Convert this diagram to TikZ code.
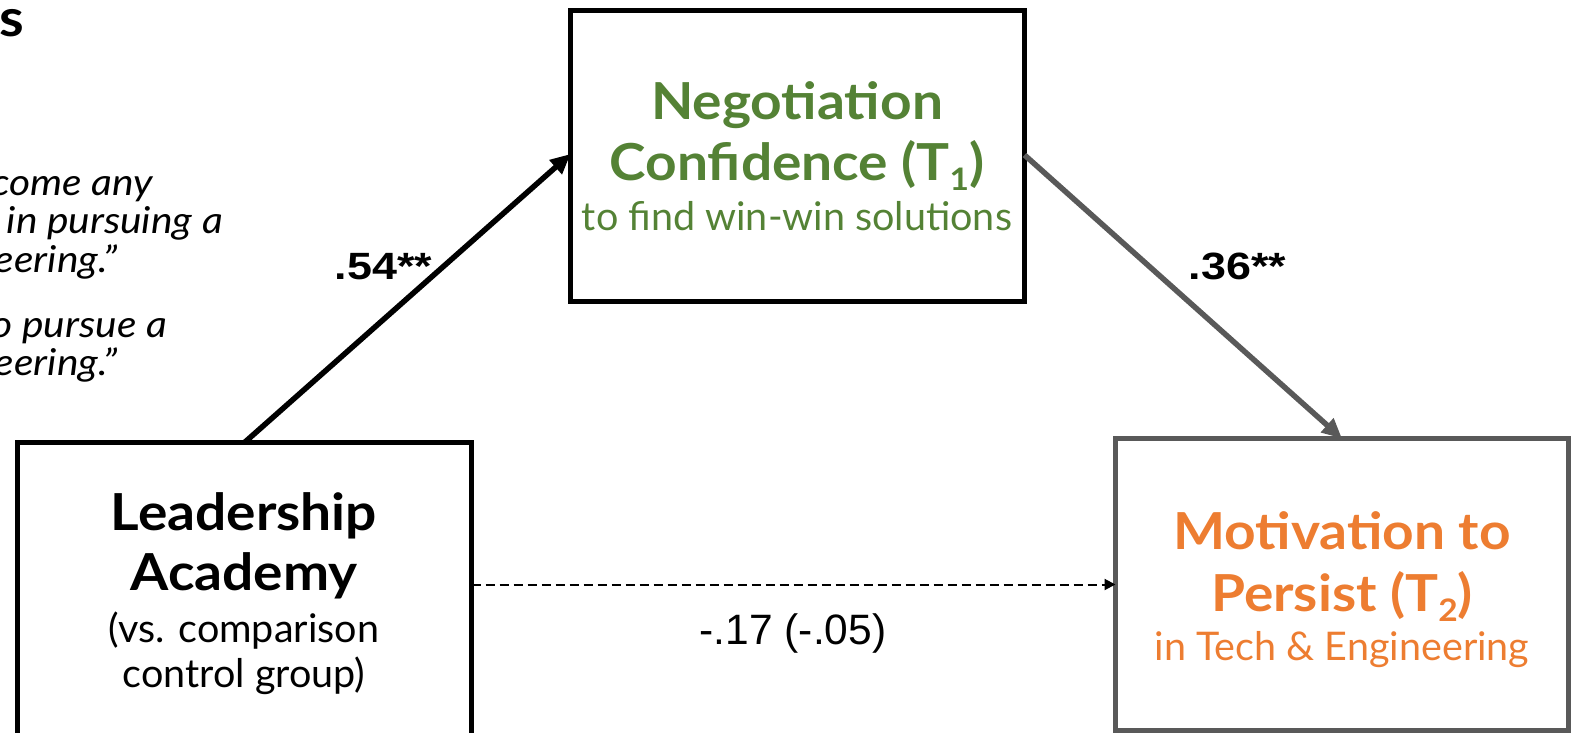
\documentclass[tikz,border=0pt]{standalone}
\usepackage{fontspec}
\setmainfont{Lato}[BoldFeatures={FakeStretch=1.08},ItalicFeatures={FakeStretch=1.1}]
\newfontfamily\labelfont{Liberation Sans}
\newfontfamily\coeffont{Liberation Sans}[BoldFeatures={FakeStretch=1.18}]
\usetikzlibrary{arrows.meta}
\definecolor{negogreen}{RGB}{84,130,53}
\definecolor{motorange}{RGB}{237,125,49}
\definecolor{pathgrey}{RGB}{89,89,89}
% lowered subscript used in the time labels
\newcommand\timesub[1]{\raisebox{-10pt}{\fontsize{31}{31}\selectfont #1}}
\begin{document}
\begin{tikzpicture}[x=1pt,y=-1pt,
  varbox/.style={draw,line width=5pt,inner sep=0pt,outer sep=0pt},
  headline/.style={anchor=base,inner sep=0pt,font=\fontsize{51}{60}\selectfont\bfseries},
  subline/.style={anchor=base,inner sep=0pt,font=\fontsize{39.5}{48}\selectfont},
  coef/.style={anchor=base,inner sep=0pt,font=\coeffont\fontsize{38}{44}\selectfont\bfseries},
  quoteline/.style={anchor=base east,inner sep=0pt,font=\fontsize{37}{42}\selectfont\itshape},
  patharrow/.style={line width=5.5pt,-{Triangle[length=20pt,width=18pt]}},
  ]
\useasboundingbox (0,0) rectangle (1576,733);
\clip (0,0) rectangle (1576,733);

% heading fragment and quoted items on the left
\node[anchor=base west,inner sep=0pt,font=\fontsize{52}{60}\selectfont\bfseries] (title) at (-1,37) {s};
\node[quoteline] (q1) at (153,195) {come any};
\node[quoteline] (q2) at (223,233) {in pursuing a};
\node[quoteline] (q3) at (118,272) {eering.”};
\node[quoteline] (q4) at (167,337) {o pursue a};
\node[quoteline] (q5) at (118,375) {eering.”};

% variable boxes
\node[varbox,minimum width=454pt,minimum height=291pt] (nego) at (797.5,156) {};
\node[varbox,minimum width=454pt,minimum height=318pt] (lead) at (244.5,601.5) {};
\node[varbox,draw=pathgrey,minimum width=453pt,minimum height=292pt] (moti) at (1342,584.5) {};

% box texts
\node[headline,text=negogreen] (negoA) at (797,120) {Negotiation};
\node[headline,text=negogreen] (negoB) at (797,180) {Confidence (T\timesub{1})};
\node[subline,text=negogreen] (negoC) at (797,230) {to find win-win solutions};

\node[headline] (leadA) at (244,530) {Leadership};
\node[headline] (leadB) at (244,590) {Academy};
\node[subline] (leadC) at (244,642) {(vs. comparison};
\node[subline] (leadD) at (244,687) {control group)};

\node[headline,text=motorange] (motiA) at (1342,549) {Motivation to};
\node[headline,text=motorange] (motiB) at (1342,611) {Persist (T\timesub{2})};
\node[subline,text=motorange] (motiC) at (1342,660) {in Tech \& Engineering};

% paths
\draw[patharrow] (lead.north) -- ([yshift=2pt]nego.west);
\draw[patharrow,draw=pathgrey,fill=pathgrey] ([yshift=1pt]nego.east) -- (moti.north);
\draw[line width=2pt,dash pattern=on 9pt off 5pt,-{Triangle[length=11pt,width=11pt]}]
  (lead.east |- moti.west) -- (moti.west);

% path coefficients
\node[coef] (c1) at (383.5,279) {.54**};
\node[coef] (c2) at (1237.5,279) {.36**};
\node[coef,font=\labelfont\fontsize{42.5}{48}\selectfont] (c3) at (793,644) {-.17 (-.05)};
\end{tikzpicture}
\end{document}
